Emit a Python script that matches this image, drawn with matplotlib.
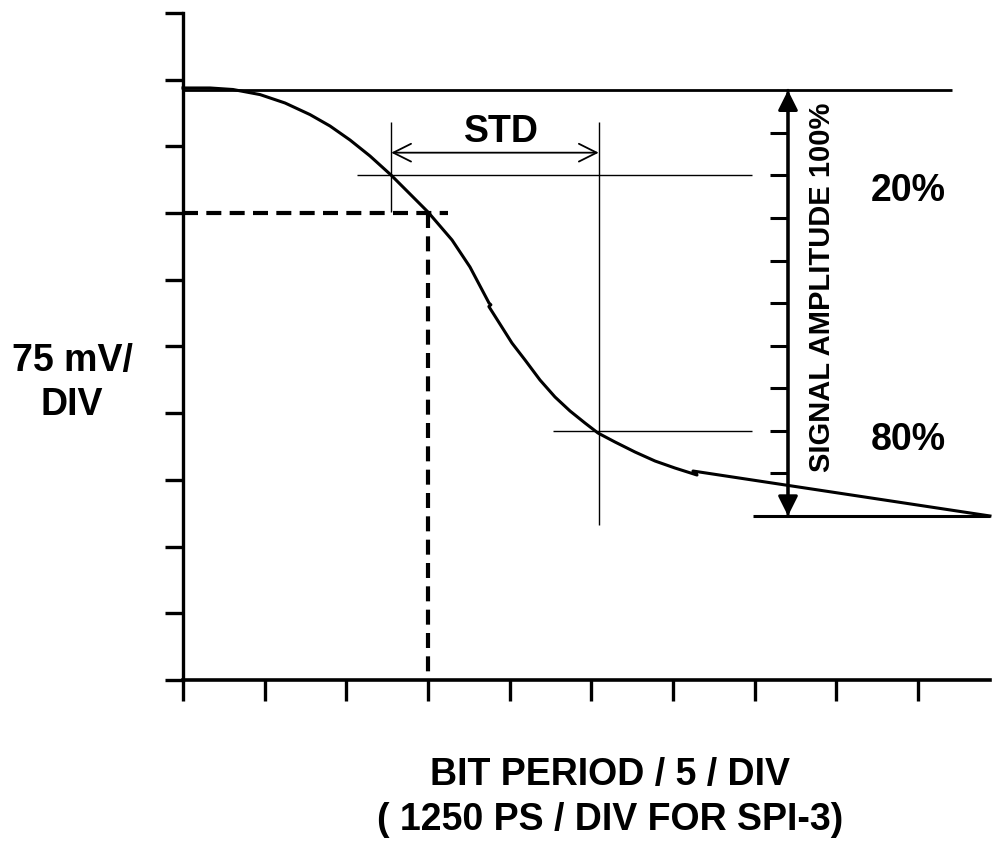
import matplotlib
matplotlib.use("Agg")
import matplotlib.pyplot as plt

plt.rcParams['font.family'] = ['Liberation Sans', 'DejaVu Sans']
plt.rcParams['font.weight'] = 'bold'

# Дані (одиниці — поділки сітки осцилографа)
curve_x = [0.0, 0.331, 0.612, 0.943, 1.249, 1.555, 1.800, 2.045, 2.290,
           2.547, 2.780, 3.0, 3.294, 3.514, 3.747, 3.77, 3.745, 3.881,
           4.028, 4.188, 4.371, 4.555, 4.739, 4.922, 5.081, 5.290, 5.535,
           5.780, 6.024, 6.294, 6.245, 9.881]
curve_y = [8.876, 8.876, 8.853, 8.777, 8.651, 8.477, 8.306, 8.096, 7.856,
           7.571, 7.286, 7.016, 6.597, 6.192, 5.652, 5.625, 5.600, 5.337,
           5.052, 4.798, 4.498, 4.243, 4.033, 3.853, 3.703, 3.568, 3.418,
           3.283, 3.178, 3.073, 3.133, 2.459]

level_high = 8.84     # 100 %
level_low = 2.46      # 0 %
t20 = 2.55            # перетин з рівнем 20 %
t80 = 5.09            # перетин з рівнем 80 %
dash_point = (3.0, 7.0)

x_ticks = list(range(0, 10))
y_ticks = list(range(0, 11))

amp = level_high - level_low
lvl20 = level_high - 0.2 * amp
lvl80 = level_high - 0.8 * amp

fig = plt.figure(figsize=(9.92, 8.42), dpi=100)
ax = fig.add_axes([0, 0, 1, 1])
ax.set_xlim(-2.2407, 9.906)
ax.set_ylim(-2.429, 10.195)

# Осі
for s in ['top', 'right']:
    ax.spines[s].set_visible(False)
ax.spines['left'].set_position(('data', 0))
ax.spines['bottom'].set_position(('data', 0))
ax.spines['left'].set_bounds(0, 10)
ax.spines['bottom'].set_bounds(0, 9.88)
ax.spines['left'].set_linewidth(2.4)
ax.spines['bottom'].set_linewidth(2.6)
ax.set_xticks(x_ticks)
ax.set_yticks(y_ticks)
ax.set_xticklabels([])
ax.set_yticklabels([])
ax.tick_params(axis='x', direction='out', length=15, width=2.4)
ax.tick_params(axis='y', direction='out', length=13, width=2.4)
ax.patch.set_visible(False)

# Крива сигналу
ax.plot(curve_x, curve_y, color='k', lw=2.2)

# Рівні 100 % і 0 %
ax.hlines(level_high, 0, 9.416, color='k', lw=2.0)
ax.hlines(level_low, 6.98, 9.88, color='k', lw=2.2)

# Штрихові лінії
ax.plot([0, dash_point[0] + 0.24], [dash_point[1], dash_point[1]],
        color='k', lw=3, linestyle=(0, (3.6, 2.0)))
ax.plot([dash_point[0], dash_point[0]], [dash_point[1], 0],
        color='k', lw=3, linestyle=(0, (3.6, 2.0)))

# Тонкі лінії перехрестя
ax.hlines(lvl20, 2.13, 6.967, color='k', lw=1.0)
ax.vlines(t20, 7.016, 8.366, color='k', lw=1.0)
ax.vlines(t80, 2.324, 8.366, color='k', lw=1.0)
ax.hlines(lvl80, 4.53, 6.967, color='k', lw=1.0)

# Стрілка STD
ax.annotate('', xy=(t80, 7.906), xytext=(t20, 7.906),
            arrowprops=dict(arrowstyle='<->', lw=1.3, color='k',
                            mutation_scale=32, shrinkA=0, shrinkB=0))
ax.text(3.894, 8.216, 'STD', ha='center', va='center', fontsize=27,
        fontweight='bold')

# Вертикальна стрілка амплітуди
arrow_x = 7.408
ax.annotate('', xy=(arrow_x, level_high), xytext=(arrow_x, level_low),
            arrowprops=dict(arrowstyle='-|>', lw=2.2, color='k',
                            mutation_scale=30, shrinkA=0, shrinkB=0))
ax.annotate('', xy=(arrow_x, level_low), xytext=(arrow_x, level_high),
            arrowprops=dict(arrowstyle='-|>', lw=2.2, color='k',
                            mutation_scale=30, shrinkA=0, shrinkB=0))
marks = [level_high - k * 0.1 * amp for k in range(1, 10)]
ax.hlines(marks, 7.188, arrow_x, color='k', lw=2.2)

ax.text(7.824, 5.892, 'SIGNAL AMPLITUDE 100%', rotation=90, ha='center',
        va='center', fontsize=21, fontweight='bold')
ax.text(8.877, 7.331, '20%', ha='center', va='center', fontsize=27,
        fontweight='bold')
ax.text(8.877, 3.598, '80%', ha='center', va='center', fontsize=27,
        fontweight='bold')

# Підписи осей
ax.text(-1.359, 4.45, '75 mV/\nDIV', ha='center', va='center',
        multialignment='center', fontsize=27, fontweight='bold',
        linespacing=1.3)
ax.text(5.228, -1.424, 'BIT PERIOD / 5 / DIV', ha='center', va='center',
        fontsize=27, fontweight='bold')
ax.text(5.228, -2.099, '( 1250 PS / DIV FOR SPI-3)', ha='center',
        va='center', fontsize=27, fontweight='bold')

fig.savefig('out.png', dpi=100)
